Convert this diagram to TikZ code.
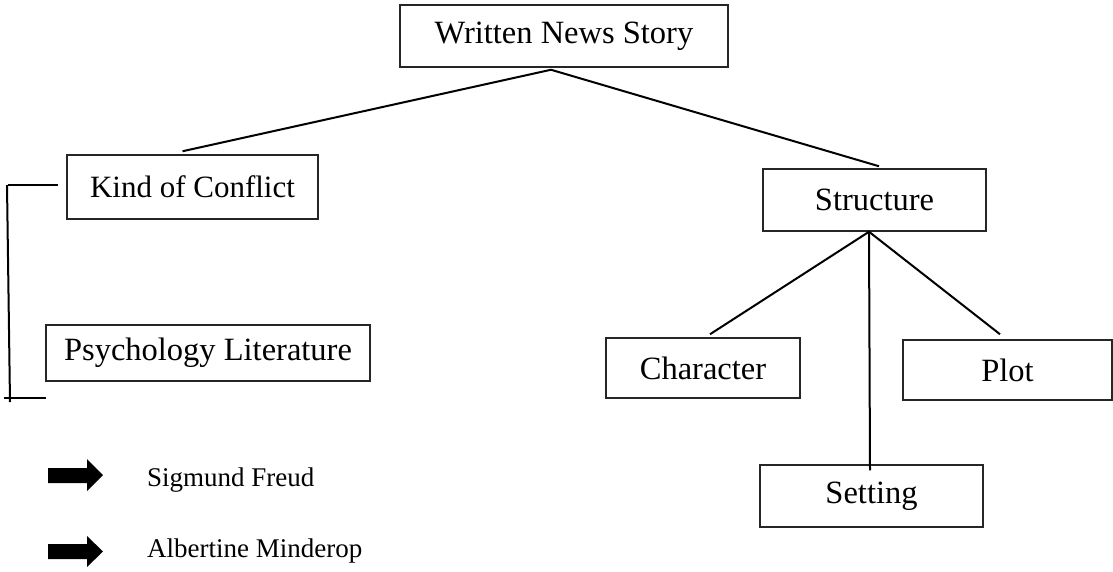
\documentclass[tikz,border=0pt]{standalone}
\usepackage{fontspec}
\setmainfont{Liberation Serif}
\begin{document}
\begin{tikzpicture}[x=1pt,y=-1pt,
  box/.style={draw=black!85, line width=1.5pt, rectangle, inner sep=0pt,
    font=\fontsize{32.5}{38}\selectfont},
  link/.style={line width=2pt, black},
  lbl/.style={inner sep=0pt, anchor=base west, font=\fontsize{27}{32}\selectfont},
  blockarrow/.style={fill=black}]
\useasboundingbox (0,0) rectangle (1113,571);

\node[box, minimum width=328pt, minimum height=62pt] (wns) at (564,36) {Written News Story};
\node[box, minimum width=251pt, minimum height=64pt, font=\fontsize{31}{36}\selectfont] (kc) at (192.5,187) {Kind of Conflict};
\node[box, minimum width=324pt, minimum height=56pt] (pl) at (208,353) {Psychology Literature};
\node[box, minimum width=223pt, minimum height=62pt] (str) at (874.5,200) {Structure};
\node[box, minimum width=194pt, minimum height=60pt] (ch) at (703,368) {Character};
\node[box, minimum width=209pt, minimum height=60pt] (plot) at (1007.5,370) {Plot};
\node[box, minimum width=223pt, minimum height=62pt] (set) at (871.5,496) {Setting};

% connectors
\coordinate (top) at ([xshift=-13pt,yshift=-2pt]wns.south);
\draw[link] (top) -- ([xshift=-10pt,yshift=3pt]kc.north);
\draw[link] (top) -- ([xshift=4.5pt,yshift=2pt]str.north);
\coordinate (sb) at ([xshift=-5.5pt]str.south);
\draw[link] (sb) -- ([xshift=7pt,yshift=3pt]ch.north);
\draw[link] (sb) -- ([xshift=-7.5pt,yshift=5pt]plot.north);
\draw[link] (sb) -- ([xshift=-1.5pt,yshift=-6pt]set.north);

% bracket
\coordinate (b1) at (8,185);
\coordinate (b2) at (58,185);
\coordinate (b3) at (7,185);
\coordinate (b4) at (10,402);
\coordinate (b5) at (4,398);
\coordinate (b6) at (46,398);
\draw[link] (b1) -- (b2);
\draw[link] (b3) -- (b4);
\draw[link] (b5) -- (b6);

% block arrows
\fill[blockarrow] (48,468) -- (87,468) -- (87,459) -- (103,475) -- (87,491) -- (87,483) -- (48,483) -- cycle;
\fill[blockarrow] (48,544) -- (87,544) -- (87,536) -- (103,551.5) -- (87,567) -- (87,559) -- (48,559) -- cycle;

\node[lbl] (sf) at (147,486) {Sigmund Freud};
\node[lbl] (am) at (147,557) {Albertine Minderop};
\end{tikzpicture}
\end{document}
